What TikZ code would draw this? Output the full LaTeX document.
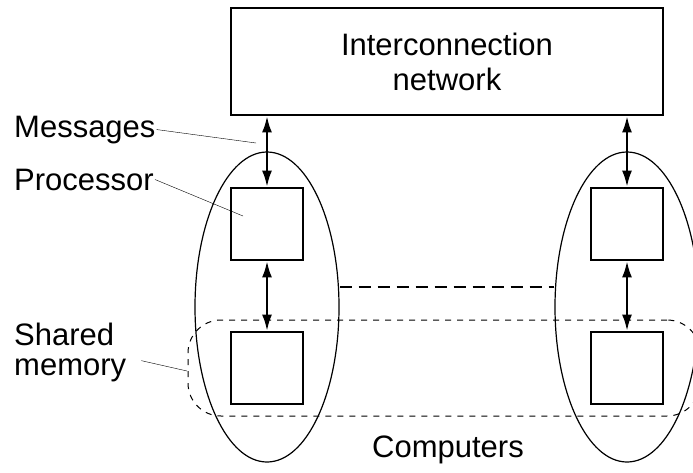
\documentclass[tikz,border=0pt]{standalone}
\usepackage{fontspec}
\setmainfont{Liberation Sans}
\usetikzlibrary{shapes.geometric,arrows.meta}

\tikzset{
  unit/.style={draw, line width=2.8pt, minimum width=72pt, minimum height=72pt, inner sep=0pt},
  computer/.style={draw, ellipse, line width=1.2pt, minimum width=144pt, minimum height=310pt, inner sep=0pt},
  label/.style={inner sep=1pt, anchor=base west},
  link/.style={<->, line width=2pt},
}

\begin{document}
\begin{tikzpicture}[x=1pt, y=-1pt, >={Latex[length=16pt,width=10pt]},
  font=\fontsize{31}{35}\selectfont]
  \useasboundingbox (0,0) rectangle (693,472);
  \clip (0,0) rectangle (693,472);

  \node[draw, line width=2.8pt, minimum width=432pt, minimum height=107pt, align=center]
    (net) at (447,61.5) {Interconnection\\network};

  % the two computers
  \node[unit] (procL) at (267,224) {};
  \node[unit] (memL) at (267,368) {};
  \node[unit] (procR) at (627,224) {};
  \node[unit] (memR) at (627,368) {};
  \node[computer] (compL) at (267,307) {};
  \node[computer] (compR) at (627,307) {};

  \draw[link] (net.south -| procL.north) -- (procL.north);
  \draw[link] (procL) -- (memL);
  \draw[link] (net.south -| procR.north) -- (procR.north);
  \draw[link] (procR) -- (memR);

  \draw[line width=1.5pt, dash pattern=on 12pt off 7pt]
    ([yshift=20pt]compL.east) -- ([yshift=20pt]compR.west);
  \node[draw, line width=1pt, dash pattern=on 6pt off 6pt, rounded corners=33pt,
    minimum width=512pt, minimum height=96pt] (shared) at (444,368) {};

  % labels
  \node[label] (msg) at (13,137) {Messages};
  \node[label] (proc) at (13,190) {Processor};
  \node[inner sep=1pt, anchor=north west, align=left] (shm) at (13,322) {Shared\\[-5pt]memory};
  \node[anchor=base] (comp) at (448,457) {Computers};

  \coordinate (msgend) at (256,143);
  \coordinate (procend) at (243,216);
  \coordinate (shmend) at (187,371);
  \draw (msg.east) -- (msgend);
  \draw (proc.east) -- (procend);
  \draw ([xshift=14pt,yshift=-8pt]shm.east) -- (shmend);
\end{tikzpicture}
\end{document}
